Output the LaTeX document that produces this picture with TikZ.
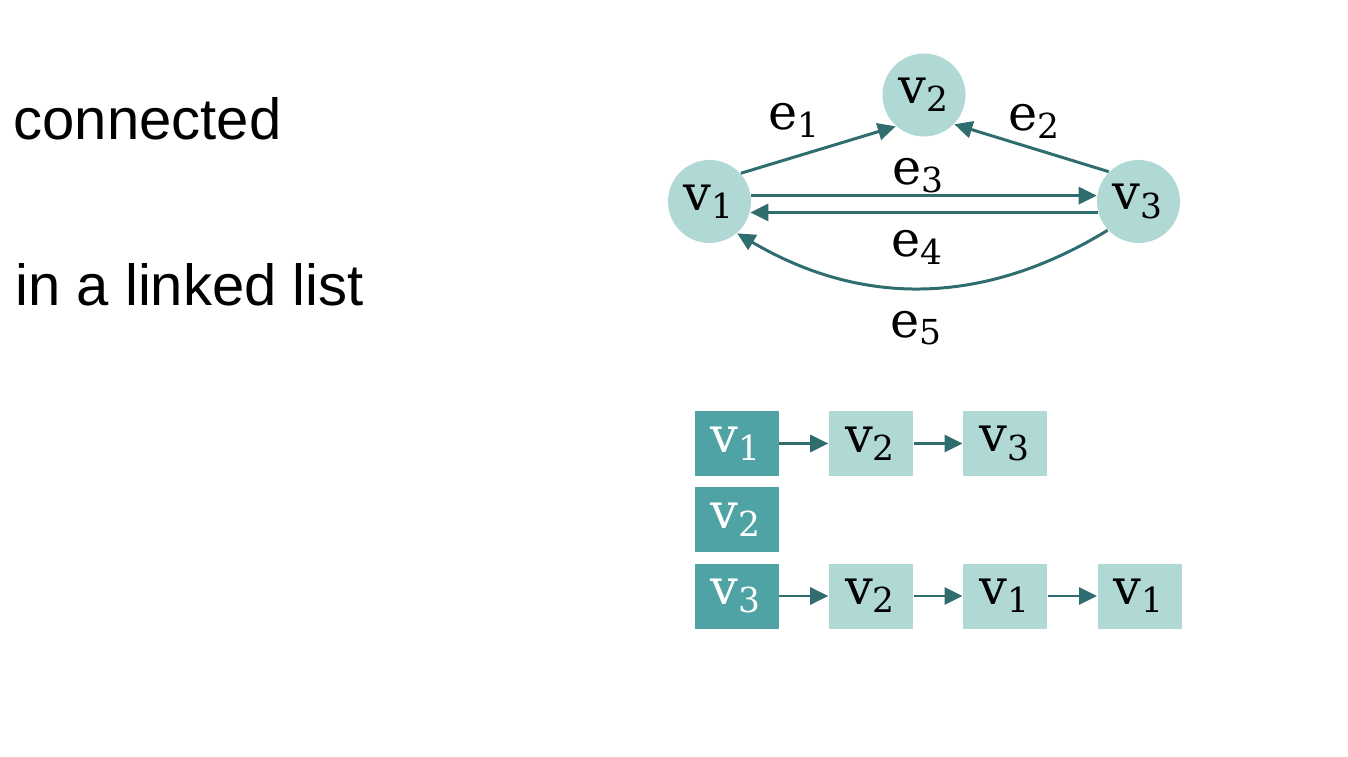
\documentclass[tikz,border=0pt]{standalone}
\usepackage{fontspec}
\setmainfont{Liberation Sans}
\newfontfamily\vfont{DejaVu Serif}
\usetikzlibrary{arrows.meta, positioning}
\definecolor{nodeteal}{HTML}{B0D8D5}
\definecolor{headteal}{HTML}{50A3A4}
\definecolor{edgeteal}{HTML}{2F6D6E}
\newcommand{\vsub}[1]{{\vfont v\textsubscript{#1}}}
\newcommand{\esub}[1]{{\vfont e\textsubscript{#1}}}

\begin{document}
\begin{tikzpicture}[
    vertex/.style={circle, fill=nodeteal, minimum size=0.83cm, inner sep=0pt, font=\fontsize{14}{16}\selectfont},
    head/.style={rectangle, fill=headteal, text=white, minimum width=0.84cm, minimum height=0.65cm, inner sep=0pt, font=\fontsize{14}{16}\selectfont},
    cell/.style={head, fill=nodeteal, text=black},
    edge/.style={-{Triangle[length=0.18cm, width=0.17cm]}, line width=0.85pt, color=edgeteal},
    elabel/.style={inner sep=0pt, font=\fontsize{14}{16}\selectfont},
    caption/.style={anchor=base west, inner sep=0pt, font=\fontsize{16.5}{20}\selectfont},
    node distance=0.49cm
]
\useasboundingbox (0,0) rectangle (13.48,7.56);

% left texts
\node[caption] (conn) at (0.13,6.16) {connected};
\node[caption] (list) at (0.15,4.50) {in a linked list};

% graph
\node[vertex] (v1) at (7.095,5.545) {\vsub{1}};
\node[vertex] (v2) at (9.24,6.61) {\vsub{2}};
\node[vertex] (v3) at (11.385,5.545) {\vsub{3}};

\draw[edge] (v1.42) -- (v2.228);
\draw[edge] (v3.135) -- (v2.316);
\draw[edge] (v1.8) -- (v3.172);
\draw[edge] (v3.195) -- (v1.345);
\draw[edge] (v3.223) to[bend left=31] (v1.311);

\node[elabel] (e1) at (7.95,6.36) {\esub{1}};
\node[elabel] (e2) at (10.35,6.35) {\esub{2}};
\node[elabel] (e3) at (9.19,5.80) {\esub{3}};
\node[elabel] (e4) at (9.18,5.09) {\esub{4}};
\node[elabel] (e5) at (9.17,4.28) {\esub{5}};

% adjacency lists
\node[head] (h1) at (7.365,3.125) {\vsub{1}};
\node[cell, right=of h1] (h1a) {\vsub{2}};
\node[cell, right=of h1a] (h1b) {\vsub{3}};

\node[head] (h2) at (7.365,2.365) {\vsub{2}};

\node[head] (h3) at (7.365,1.60) {\vsub{3}};
\node[cell, right=of h3] (h3a) {\vsub{2}};
\node[cell, right=of h3a] (h3b) {\vsub{1}};
\node[cell, right=of h3b] (h3c) {\vsub{1}};

\draw[edge] (h1) -- (h1a);
\draw[edge] (h1a) -- (h1b);
\draw[edge] (h3) -- (h3a);
\draw[edge] (h3a) -- (h3b);
\draw[edge] (h3b) -- (h3c);
\end{tikzpicture}
\end{document}
